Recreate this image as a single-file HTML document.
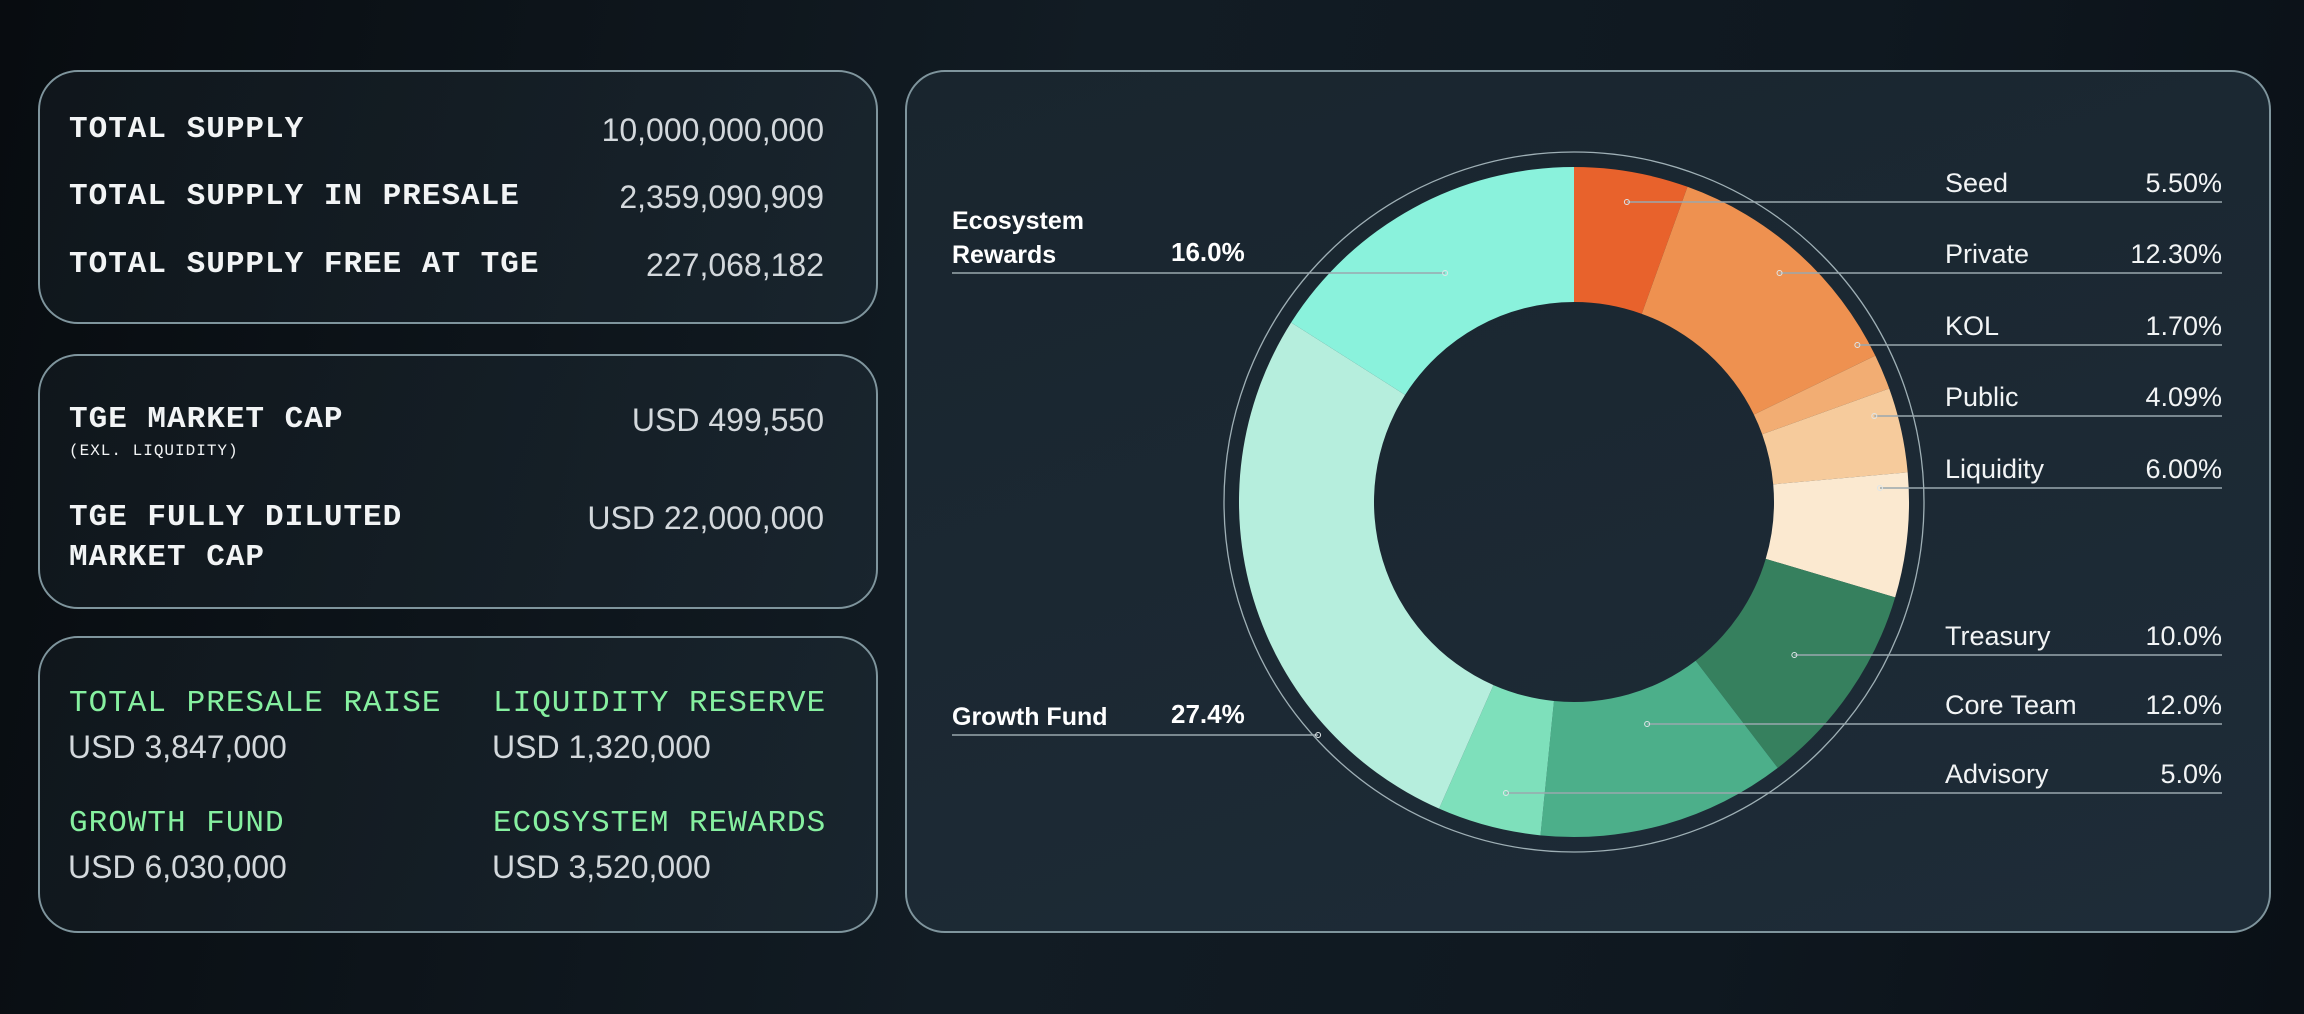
<!DOCTYPE html>
<html><head><meta charset="utf-8">
<style>
body{margin:0;width:2304px;height:1014px;overflow:hidden;background:linear-gradient(100deg,#080c10 0%,#121c24 45%,#0f1820 75%,#0a1016 100%);font-family:"Liberation Sans",sans-serif;position:relative}
.card{position:absolute;border:2px solid #7f959d;border-radius:40px;box-sizing:border-box;background:linear-gradient(110deg,rgba(20,28,34,.6),rgba(30,44,54,.6))}
.m{position:absolute;font-family:"Liberation Mono",monospace;font-weight:bold;font-size:31px;color:#f2f4f5;letter-spacing:1px;white-space:nowrap}
.v{position:absolute;font-size:32px;color:#d3d8dc;white-space:nowrap}
.g{color:#86f0a0;font-weight:normal}
</style></head><body>
<div class="card" style="left:38px;top:70px;width:840px;height:254px">
 <div class="m" style="left:29px;top:40px">TOTAL SUPPLY</div>
 <div class="v" style="right:52px;top:40px">10,000,000,000</div>
 <div class="m" style="left:29px;top:107px">TOTAL SUPPLY IN PRESALE</div>
 <div class="v" style="right:52px;top:107px">2,359,090,909</div>
 <div class="m" style="left:29px;top:175px">TOTAL SUPPLY FREE AT TGE</div>
 <div class="v" style="right:52px;top:175px">227,068,182</div>
</div>
<div class="card" style="left:38px;top:354px;width:840px;height:255px">
 <div class="m" style="left:29px;top:46px">TGE MARKET CAP</div>
 <div class="m" style="left:29px;top:86px;font-size:16px;font-weight:normal">(EXL. LIQUIDITY)</div>
 <div class="v" style="right:52px;top:46px">USD 499,550</div>
 <div class="m" style="left:29px;top:142px;line-height:40px">TGE FULLY DILUTED<br>MARKET CAP</div>
 <div class="v" style="right:52px;top:144px">USD 22,000,000</div>
</div>
<div class="card" style="left:38px;top:636px;width:840px;height:297px">
 <div class="m g" style="left:29px;top:48px">TOTAL PRESALE RAISE</div>
 <div class="v" style="left:28px;top:91px">USD 3,847,000</div>
 <div class="m g" style="left:453px;top:48px">LIQUIDITY RESERVE</div>
 <div class="v" style="left:452px;top:91px">USD 1,320,000</div>
 <div class="m g" style="left:29px;top:168px">GROWTH FUND</div>
 <div class="v" style="left:28px;top:211px">USD 6,030,000</div>
 <div class="m g" style="left:453px;top:168px">ECOSYSTEM REWARDS</div>
 <div class="v" style="left:452px;top:211px">USD 3,520,000</div>
</div>
<div class="card" style="left:905px;top:70px;width:1366px;height:863px;background:linear-gradient(160deg,#19252e,#1e2c38)"></div>
<svg id="chart" width="2304" height="1014" style="position:absolute;left:0;top:0" font-family="Liberation Sans, sans-serif"></svg>
<script>
const labels=["Seed","Private","KOL","Public","Liquidity","Treasury","Core Team","Advisory","Growth Fund","Ecosystem Rewards"];
const values=[5.5,12.3,1.7,4.09,6.0,10.0,12.0,5.0,27.4,16.0];
const valueText=["5.50%","12.30%","1.70%","4.09%","6.00%","10.0%","12.0%","5.0%","27.4%","16.0%"];
const colors=["#e8622c","#ee9150","#f2ad73","#f6cb9c","#fbe9d0","#36805e","#4caf8a","#7ee0bb","#b6eedd","#8af2dc"];
const labelRows=[192,263,335,406,478,645,714,783,725,263];
const S="http://www.w3.org/2000/svg",svg=document.getElementById('chart');
const cx=1574,cy=502,R=335,r0=200;
const total=values.reduce((a,b)=>a+b,0);
function pt(a,rad){return[cx+rad*Math.sin(a),cy-rad*Math.cos(a)]}
function mk(t,at){const e=document.createElementNS(S,t);for(const k in at)e.setAttribute(k,at[k]);svg.appendChild(e);return e}
const ring=mk('circle',{cx:cx,cy:cy,r:350,fill:'none',stroke:'#9fb0b6','stroke-width':1.3});


let acc=0;const mids=[];
values.forEach((v,i)=>{
 const a0=acc/total*2*Math.PI;acc+=v;const a1=acc/total*2*Math.PI;
 const lg=(a1-a0)>Math.PI?1:0;
 const p1=pt(a0,R),p2=pt(a1,R),p3=pt(a1,r0),p4=pt(a0,r0);
 const p=mk('path',{d:`M${p1}A${R},${R} 0 ${lg} 1 ${p2}L${p3}A${r0},${r0} 0 ${lg} 0 ${p4}Z`,fill:colors[i]});
 
 
 mids.push((a0+a1)/2);
});
labels.forEach((lab,i)=>{
 const y=labelRows[i];const left=i>=8;
 const m=pt(mids[i],(R+r0)/2+(i<5?40:0));
 const ly=y+10;
 const x1=left?952:m[0],x2=left?m[0]:2222;
 const ln=mk('line',{x1:x1,y1:ly,x2:x2,y2:ly,stroke:'#9aa8ae','stroke-width':1.5});
 
 
 const d=mk('circle',{cx:m[0],cy:ly,r:2.5,fill:'none',stroke:'#dfe6e8','stroke-width':1});
 
 
 if(!left){
  const t=mk('text',{x:1945,y:y,fill:'#f2f4f5','font-size':27});t.textContent=lab;
  
  
  const tv=mk('text',{x:2222,y:y,fill:'#f2f4f5','font-size':27,'text-anchor':'end'});tv.textContent=valueText[i];
  
  
 }else{
  const words=lab==="Ecosystem Rewards"?["Ecosystem","Rewards"]:[lab];
  words.forEach((w,k)=>{
   const t=mk('text',{x:952,y:y-(words.length-1-k)*34,fill:'#ffffff','font-size':25,'font-weight':'bold'});t.textContent=w;
   
   
  });
  const tv=mk('text',{x:1171,y:y-2,fill:'#ffffff','font-size':26,'font-weight':'bold'});tv.textContent=valueText[i];
  
  
 }
});
</script>
</body></html>
